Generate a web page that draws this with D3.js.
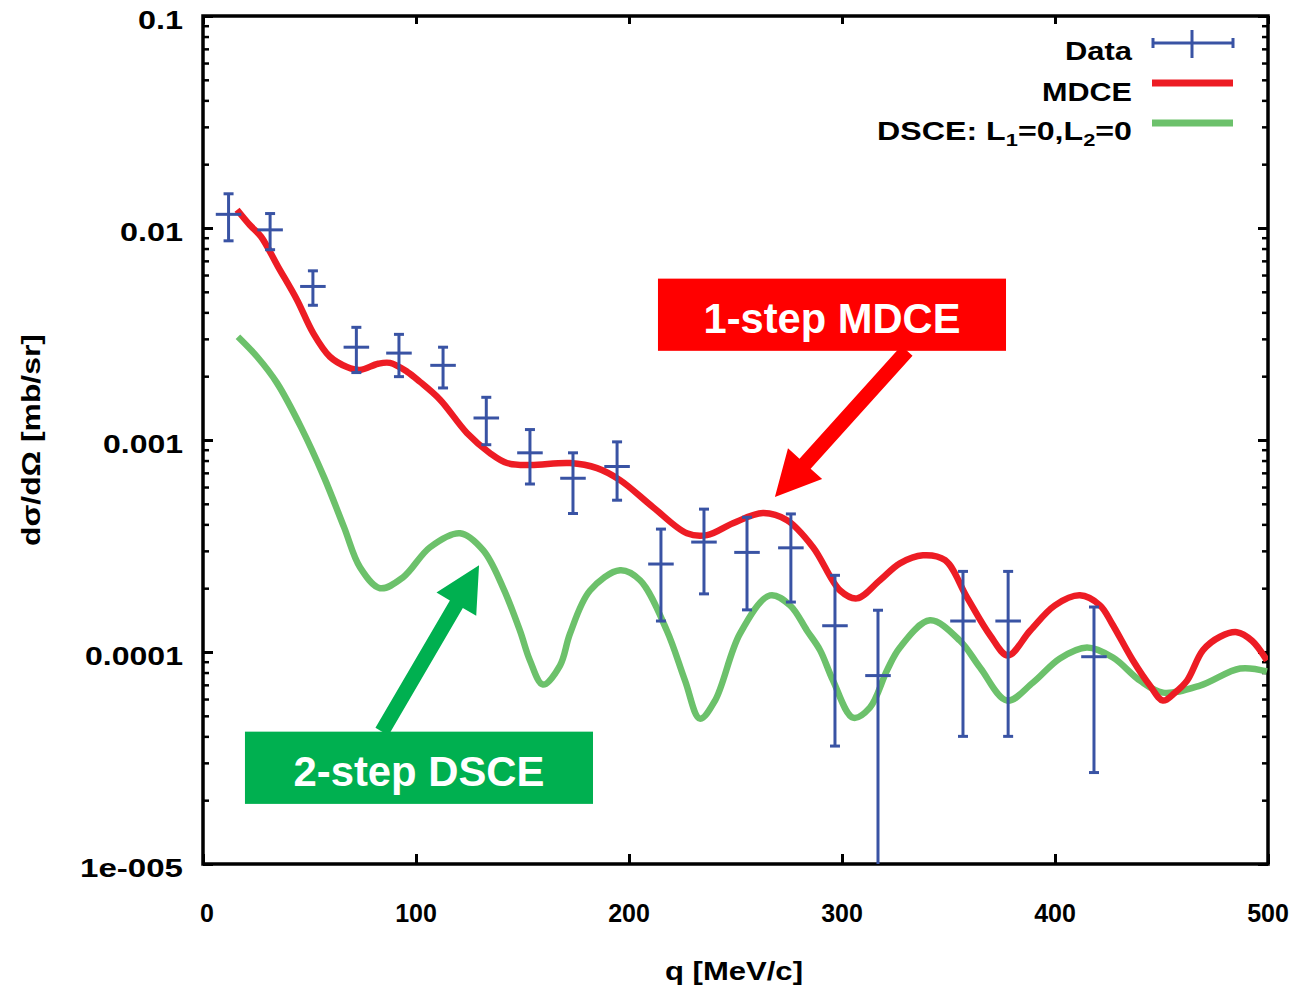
<!DOCTYPE html>
<html>
<head>
<meta charset="utf-8">
<script src="https://cdn.jsdelivr.net/npm/d3@7/dist/d3.min.js"></script>
<style>
  html, body { margin: 0; padding: 0; background: #fff; }
  svg { display: block; }
  text { font-family: "Liberation Sans", Arial, sans-serif; font-weight: bold; }
</style>
</head>
<body>
<svg id="chart" width="1301" height="991"></svg>
<script>
// Measured cross sections (q in MeV/c, dsigma/dOmega in mb/sr) with errors
const qData   = [12, 31.5, 51.6, 72, 92, 112.7, 133, 153.5, 173.7, 194.4, 215, 235.2, 255.4, 276, 296.7, 316.9, 356.8, 378, 418.3];
const sigData = [0.0116, 0.0098, 0.0053, 0.00274, 0.00257, 0.00225, 0.00127, 0.00087, 0.00066, 0.00075,
                 0.00026, 0.00033, 0.000295, 0.00031, 0.000133, 0.0000774, 0.00014, 0.00014, 0.000095];
const sigErr  = [0.0029, 0.0019, 0.00098, 0.00066, 0.00058, 0.00049, 0.00032, 0.00025, 0.00021, 0.00023,
                 0.00012, 0.000142, 0.000137, 0.000138, 0.000097, 0.00008, 0.0001, 0.0001, 0.000068];
const qHalfWidth = 6;

// MDCE calculation
const qMDCE = [16, 22.1, 27.2, 35.2, 44.1, 51.6, 59.6, 67.6, 73.7, 82.2, 87.8, 95.8, 101.9, 111.3, 123.9,
               134.7, 142.7, 153.5, 172.3, 185, 195.8, 211.3, 227.2, 236.6, 248.8, 262.9, 274.2, 286.4, 299.1,
               307, 317.8, 327.2, 338, 348.4, 358.7, 369.5, 377.9, 388.3, 400, 411.7, 421.1, 426.8, 436.6,
               444.6, 450.7, 456.3, 462, 469.5, 477.5, 485.4, 492.5, 499.5];
const sigMDCE = [0.0122, 0.0103, 0.00912, 0.00658, 0.00459, 0.00321, 0.00247, 0.00221, 0.00214, 0.00229,
                 0.00231, 0.0021, 0.00188, 0.00155, 0.00108, 0.000868, 0.000779, 0.000762, 0.000779, 0.000737,
                 0.000647, 0.000482, 0.000363, 0.000356, 0.000405, 0.000452, 0.000418, 0.000312, 0.000195,
                 0.000179, 0.000218, 0.000262, 0.000286, 0.000271, 0.000181, 0.00012, 0.0000963, 0.000126,
                 0.000166, 0.000185, 0.000166, 0.000136, 0.0000912, 0.0000694, 0.000059, 0.0000643, 0.0000733,
                 0.000102, 0.000118, 0.000124, 0.000113, 0.0000912];

// DSCE calculation, L1=0, L2=0
const qDSCE = [16.4, 25.4, 34.7, 46, 56.8, 66.2, 73.7, 83.1, 93.9, 106.6, 120.7, 131.5, 140.8, 148.8, 153.5,
               159.6, 167.6, 172.3, 181.7, 195.8, 205.2, 217.8, 226.3, 233.3, 240.4, 252.1, 266.2, 275.6,
               283.6, 289.7, 295.8, 305.2, 313.1, 321.1, 327.2, 341.3, 355.4, 364.8, 377.5, 389.7, 402.3,
               415, 427.2, 439.9, 450.7, 468.1, 486.9, 499.5];
const sigDSCE = [0.00307, 0.00247, 0.00186, 0.00115, 0.000668, 0.000388, 0.000251, 0.0002, 0.000225, 0.000312,
                 0.000363, 0.000302, 0.000202, 0.000126, 0.0000912, 0.0000702, 0.0000863, 0.000122, 0.000195,
                 0.000243, 0.000218, 0.000126, 0.0000733, 0.0000485, 0.000059, 0.000122, 0.000185, 0.000166,
                 0.000126, 0.000102, 0.0000733, 0.000049, 0.0000547, 0.0000818, 0.000105, 0.000141, 0.000113,
                 0.0000845, 0.000059, 0.0000718, 0.0000932, 0.000105, 0.0000942, 0.0000733, 0.0000643,
                 0.0000694, 0.0000836, 0.0000809];

// Axis ticks
const xTickValues = [0, 100, 200, 300, 400, 500];
const xTickLabels = ["0", "100", "200", "300", "400", "500"];
const yTickValues = [1e-5, 1e-4, 1e-3, 1e-2, 1e-1];
const yTickLabels = ["1e-005", "0.0001", "0.001", "0.01", "0.1"];

const legendLabels = ["Data", "MDCE", "DSCE"];

const colData = "#3953a4", colMDCE = "#ed1c24", colDSCE = "#6cc16b";
const colRedBox = "#ff0000", colGreenBox = "#00b050";

const svg = d3.select("#chart");
const L = 203, R = 1268, T = 16, B = 864;
const x = d3.scaleLinear().domain([0, 500]).range([L, R]);
const y = d3.scaleLog().domain([1e-5, 0.1]).range([B, T]);

// Stretch a text element horizontally to a given width around its anchor
function fitWidth(sel, width) {
  sel.each(function () {
    const w = this.getComputedTextLength();
    const ax = +this.getAttribute("x") || 0;
    const s = width / w;
    this.setAttribute("transform", `translate(${ax},0) scale(${s},1) translate(${-ax},0)`);
  });
}

svg.append("defs").append("clipPath").attr("id", "plotClip")
  .append("rect").attr("x", L).attr("y", T).attr("width", R - L).attr("height", B - T);

// Minor tick values for the log axis
const minorY = [];
for (let e = -5; e < -1 + 1e-9; e++) for (let m = 2; m <= 9; m++) {
  const v = m * Math.pow(10, e);
  if (v < 0.1) minorY.push(v);
}

function styleTicks(g, w) {
  g.select(".domain").remove();
  g.selectAll(".tick line").attr("stroke", "#000").attr("stroke-width", w);
}
// Inward ticks on all four sides
svg.append("g").attr("transform", `translate(${L},0)`)
  .call(d3.axisRight(y).tickValues(yTickValues).tickSize(10).tickFormat("")).call(styleTicks, 3);
svg.append("g").attr("transform", `translate(${L},0)`)
  .call(d3.axisRight(y).tickValues(minorY).tickSize(6).tickFormat("")).call(styleTicks, 2.5);
svg.append("g").attr("transform", `translate(${R},0)`)
  .call(d3.axisLeft(y).tickValues(yTickValues).tickSize(10).tickFormat("")).call(styleTicks, 3);
svg.append("g").attr("transform", `translate(${R},0)`)
  .call(d3.axisLeft(y).tickValues(minorY).tickSize(6).tickFormat("")).call(styleTicks, 2.5);
svg.append("g").attr("transform", `translate(0,${B})`)
  .call(d3.axisTop(x).tickValues(xTickValues).tickSize(10).tickFormat("")).call(styleTicks, 3);
svg.append("g").attr("transform", `translate(0,${T})`)
  .call(d3.axisBottom(x).tickValues(xTickValues).tickSize(8).tickFormat("")).call(styleTicks, 3);

// Frame
svg.append("rect").attr("x", L).attr("y", T).attr("width", R - L).attr("height", B - T)
  .attr("fill", "none").attr("stroke", "#000").attr("stroke-width", 3.5);

// Tick labels
const yLabelWidths = [103, 98, 80, 63, 45];
svg.append("g").selectAll("text").data(yTickValues).join("text")
  .attr("x", 183).attr("y", d => y(d) + 13)
  .attr("text-anchor", "end").attr("font-size", 25).attr("fill", "#000")
  .text((d, i) => yTickLabels[i])
  .each(function (d, i) { fitWidth(d3.select(this), yLabelWidths[i]); });

svg.append("g").selectAll("text").data(xTickValues).join("text")
  .attr("x", d => x(d) + (d === 0 ? 4 : 0)).attr("y", 922)
  .attr("text-anchor", "middle").attr("font-size", 25).attr("fill", "#000")
  .text((d, i) => xTickLabels[i]);

// Axis titles
svg.append("text").attr("x", 734).attr("y", 980).attr("text-anchor", "middle")
  .attr("font-size", 26).text("q [MeV/c]").call(fitWidth, 138);
svg.append("g").attr("transform", "translate(40,440) rotate(-90)")
  .append("text").attr("x", 0).attr("y", 0).attr("text-anchor", "middle")
  .attr("font-size", 25).text("dσ/dΩ [mb/sr]").call(fitWidth, 212);

const plot = svg.append("g").attr("clip-path", "url(#plotClip)");

// Theory curves
const line = d3.line().x(d => x(d[0])).y(d => y(d[1])).curve(d3.curveCatmullRom.alpha(0.5));
plot.append("path").datum(qDSCE.map((q, i) => [q, sigDSCE[i]]))
  .attr("d", line).attr("fill", "none").attr("stroke", colDSCE).attr("stroke-width", 6.5)
  .attr("stroke-linejoin", "round").attr("stroke-linecap", "butt");
plot.append("path").datum(qMDCE.map((q, i) => [q, sigMDCE[i]]))
  .attr("d", line).attr("fill", "none").attr("stroke", colMDCE).attr("stroke-width", 6.5)
  .attr("stroke-linejoin", "round").attr("stroke-linecap", "butt");

// Data with error bars
const pts = qData.map((q, i) => ({ q, v: sigData[i], e: sigErr[i] }));
const eb = plot.append("g").attr("stroke", colData).attr("stroke-width", 3).attr("fill", "none");
const yLo = d => (d.v - d.e > 0 ? y(d.v - d.e) : B + 20);
const yHi = d => y(d.v + d.e);
eb.selectAll(".v").data(pts).join("line")
  .attr("x1", d => x(d.q)).attr("x2", d => x(d.q))
  .attr("y1", yHi).attr("y2", yLo);
eb.selectAll(".h").data(pts).join("line")
  .attr("x1", d => x(d.q - qHalfWidth)).attr("x2", d => x(d.q + qHalfWidth))
  .attr("y1", d => y(d.v)).attr("y2", d => y(d.v));
eb.selectAll(".ct").data(pts).join("line")
  .attr("x1", d => x(d.q) - 5).attr("x2", d => x(d.q) + 5)
  .attr("y1", yHi).attr("y2", yHi);
eb.selectAll(".cb").data(pts.filter(d => d.v - d.e > 0)).join("line")
  .attr("x1", d => x(d.q) - 5).attr("x2", d => x(d.q) + 5)
  .attr("y1", yLo).attr("y2", yLo);

// Legend
const lg = svg.append("g");
const lgText = [[60, 67], [101, 90], [140, 255]];
const lgLineY = [43, 83, 123];
lg.append("text").attr("x", 1132).attr("y", lgText[0][0]).attr("text-anchor", "end")
  .attr("font-size", 25).text(legendLabels[0]).call(fitWidth, lgText[0][1]);
lg.append("text").attr("x", 1132).attr("y", lgText[1][0]).attr("text-anchor", "end")
  .attr("font-size", 25).text(legendLabels[1]).call(fitWidth, lgText[1][1]);
const t3 = lg.append("text").attr("x", 1132).attr("y", lgText[2][0]).attr("text-anchor", "end")
  .attr("font-size", 25);
t3.append("tspan").text(legendLabels[2] + ": L");
t3.append("tspan").attr("font-size", 17).attr("dy", 6).text("1");
t3.append("tspan").attr("dy", -6).text("=0,L");
t3.append("tspan").attr("font-size", 17).attr("dy", 6).text("2");
t3.append("tspan").attr("dy", -6).text("=0");
t3.call(fitWidth, lgText[2][1]);

const lgData = lg.append("g").attr("stroke", colData).attr("stroke-width", 3);
lgData.append("line").attr("x1", 1152).attr("x2", 1233).attr("y1", lgLineY[0]).attr("y2", lgLineY[0]);
lgData.append("line").attr("x1", 1192).attr("x2", 1192).attr("y1", lgLineY[0] - 13).attr("y2", lgLineY[0] + 15);
lgData.append("line").attr("x1", 1153).attr("x2", 1153).attr("y1", lgLineY[0] - 5).attr("y2", lgLineY[0] + 5);
lgData.append("line").attr("x1", 1233).attr("x2", 1233).attr("y1", lgLineY[0] - 5).attr("y2", lgLineY[0] + 5);
lg.append("line").attr("x1", 1152).attr("x2", 1233).attr("y1", lgLineY[1]).attr("y2", lgLineY[1])
  .attr("stroke", colMDCE).attr("stroke-width", 7);
lg.append("line").attr("x1", 1152).attr("x2", 1233).attr("y1", lgLineY[2]).attr("y2", lgLineY[2])
  .attr("stroke", colDSCE).attr("stroke-width", 7);

// Annotations: labelled boxes with arrows pointing at the curves
function arrowPts(tail, tip, sw, hl, hw) {
  const dx = tip[0] - tail[0], dy = tip[1] - tail[1], len = Math.hypot(dx, dy);
  const ux = dx / len, uy = dy / len, nx = -uy, ny = ux;
  const bx = tip[0] - ux * hl, by = tip[1] - uy * hl;
  return [[tail[0] + nx * sw, tail[1] + ny * sw], [bx + nx * sw, by + ny * sw], [bx + nx * hw, by + ny * hw],
          tip, [bx - nx * hw, by - ny * hw], [bx - nx * sw, by - ny * sw], [tail[0] - nx * sw, tail[1] - ny * sw]];
}
const annotations = [
  { label: "1-step MDCE", fill: colRedBox, q0: 213.6, q1: 377, vTop: 0.00577, vBot: 0.002634,
    tail: [330.5, 0.002634], tip: [268.5, 0.000538], textW: 257 },
  { label: "2-step DSCE", fill: colGreenBox, q0: 19.7, q1: 183.1, vTop: 0.0000421, vBot: 0.00001921,
    tail: [84, 0.0000421], tip: [129.6, 0.0002564], textW: 251 }
];
const ann = svg.append("g");
annotations.forEach(a => {
  const tail = [x(a.tail[0]), y(a.tail[1])], tip = [x(a.tip[0]), y(a.tip[1])];
  ann.append("polygon").attr("points", arrowPts(tail, tip, 7.5, 45, 23).map(p => p.join(",")).join(" "))
    .attr("fill", a.fill);
  const bx0 = x(a.q0), bx1 = x(a.q1), by0 = y(a.vTop), by1 = y(a.vBot);
  ann.append("rect").attr("x", bx0).attr("y", by0).attr("width", bx1 - bx0).attr("height", by1 - by0)
    .attr("fill", a.fill);
  ann.append("text").attr("x", (bx0 + bx1) / 2).attr("y", by1 - 18).attr("text-anchor", "middle")
    .attr("font-size", 42).attr("fill", "#fff").text(a.label).call(fitWidth, a.textW);
});
</script>
</body>
</html>
